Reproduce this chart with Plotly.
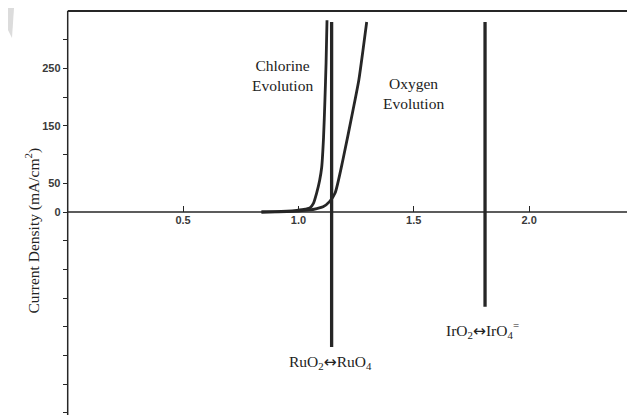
import plotly.graph_objects as go

# ---- data ----
chlorine_potential = [0.84, 0.90, 0.95, 0.993, 1.03, 1.05, 1.065, 1.079, 1.092, 1.101, 1.109, 1.115, 1.120, 1.124]
chlorine_current = [0, 0.5, 1.5, 3, 5, 7, 15, 33, 55, 78, 130, 195, 260, 334]

oxygen_potential = [0.84, 0.95, 1.00, 1.05, 1.08, 1.107, 1.135, 1.159, 1.193, 1.237, 1.262, 1.280, 1.296]
oxygen_current = [0, 0.5, 1.5, 3.5, 6, 9, 18, 33, 91, 178, 230, 282, 331]

ruo2_potential = [1.144, 1.144]
ruo2_current = [331, -235]
iro2_potential = [1.809, 1.809]
iro2_current = [331, -165]

x_tick_vals = [0.5, 1.0, 1.5, 2.0]
x_tick_text = ["0.5", "1.0", "1.5", "2.0"]
y_tick_vals = [0, 50, 150, 250]
y_tick_text = ["0", "50", "150", "250"]
y_minor_vals = [-350, -300, -250, -200, -150, -100, -50, 100, 200, 300]

ARROW = '<span style="font-family:DejaVu Sans">↔</span>'
labels = ["Chlorine<br>Evolution", "Oxygen<br>Evolution",
          "RuO<sub>2</sub>" + ARROW + "RuO<sub>4</sub>",
          "IrO<sub>2</sub>" + ARROW + "IrO<sub>4</sub><sup>=</sup>"]
label_x = [0.929, 1.497, 1.137, 1.80]
label_y = [237, 207, -263, -205]

# ---- layout geometry (page has an 8px body margin) ----
L, W, H = 52, 635, 415
PW = W - L
XMIN = -(7.7 / 230.7)
XMAX = XMIN + PW / 230.7
YMAX = (212 - 8) / 0.574
YMIN = -(423 - 212) / 0.574
YTOP = 350
INK = "#262626"

fig = go.Figure()
for xs, ys, w in [(chlorine_potential, chlorine_current, 2.8),
                  (oxygen_potential, oxygen_current, 2.8),
                  (ruo2_potential, ruo2_current, 3.3),
                  (iro2_potential, iro2_current, 3.3)]:
    fig.add_trace(go.Scatter(x=xs, y=ys, mode="lines",
                             line=dict(color=INK, width=w, shape="spline", smoothing=0.6),
                             showlegend=False, hoverinfo="skip"))

# axis lines and frame top
fig.add_shape(type="line", x0=0, x1=XMAX, y0=YTOP, y1=YTOP, line=dict(color=INK, width=2))
fig.add_shape(type="line", x0=0, x1=0, y0=YTOP, y1=YMIN, line=dict(color=INK, width=1.5))
fig.add_shape(type="line", x0=0, x1=XMAX, y0=0, y1=0, line=dict(color=INK, width=1.5))

# scan artifact in top-left corner
fig.add_shape(type="path", xref="paper", yref="paper",
              path="M %f,1 L %f,1 L %f,%f L %f,%f Z" % (-L/PW, -(L-6)/PW, -(L-4)/PW, 1-30/H, -L/PW, 1-22/H),
              fillcolor="#dcdcdc", line=dict(width=0), layer="below")

for t, x, y in zip(labels, label_x, label_y):
    fig.add_annotation(x=x, y=y, text=t, showarrow=False,
                       font=dict(family="Liberation Serif", size=15.5, color="#222"))

fig.add_annotation(xref="paper", yref="paper", x=(20 - 8 - L) / PW, y=1 - (231 - 8) / H,
                   text="Current Density (mA/cm<sup>2</sup>)", textangle=-90, showarrow=False,
                   font=dict(family="Liberation Serif", size=15.5, color="#222"))

tickfont = dict(family="Liberation Sans", size=11, color="#3a3a3a", weight="bold")
fig.update_layout(
    width=W, height=H,
    margin=dict(l=L, r=0, t=0, b=0),
    paper_bgcolor="white", plot_bgcolor="white",
    xaxis=dict(range=[XMIN, XMAX], anchor="free", position=(0 - YMIN) / (YMAX - YMIN),
               showline=False, showgrid=False, zeroline=False,
               tickvals=x_tick_vals, ticktext=x_tick_text, ticks="inside", ticklen=6,
               tickcolor=INK, tickwidth=1.3, tickfont=tickfont),
    yaxis=dict(range=[YMIN, YMAX], anchor="free", position=(67.7 - 8 - L) / PW,
               showline=False, showgrid=False, zeroline=False,
               tickvals=y_tick_vals, ticktext=y_tick_text, ticks="outside", ticklen=5,
               tickcolor=INK, tickwidth=1.3, tickfont=tickfont,
               minor=dict(tickvals=y_minor_vals, ticks="outside", ticklen=5,
                          tickcolor=INK, tickwidth=1.3)),
)

fig.write_html("out.html")
